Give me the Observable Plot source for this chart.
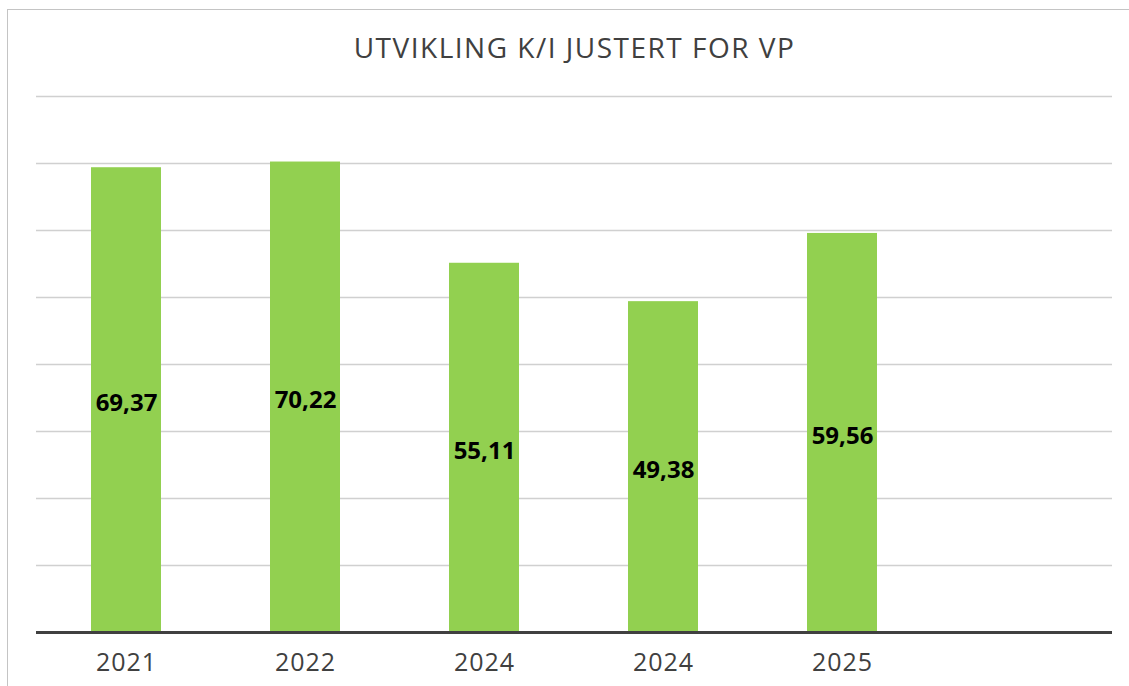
<!DOCTYPE html>
<html>
<head>
<meta charset="utf-8">
<script src="https://cdn.jsdelivr.net/npm/d3@7"></script>
<script src="https://cdn.jsdelivr.net/npm/@observablehq/plot@0.6"></script>
<style>
  html, body { margin: 0; padding: 0; background: #fff; overflow: hidden; }
  body { width: 1129px; height: 686px; position: relative; font-family: "Open Sans", sans-serif; }
  #frame { position: absolute; left: 7px; top: 9px; width: 1300px; height: 900px; border: 1.5px solid #c4c4c4; box-sizing: border-box; }
  #title { position: absolute; left: 10px; top: 14px; width: 1129px; height: 66px; line-height: 66px; text-align: center; font-size: 28px; letter-spacing: 1.5px; color: #404040; font-weight: 400; }
  #chart { position: absolute; left: 0; top: 80px; }
  #chart g[aria-label="x-axis tick label"] text { letter-spacing: 1px; }
</style>
</head>
<body>
<div id="frame"></div>
<div id="title">UTVIKLING K/I JUSTERT FOR VP</div>
<div id="chart"></div>
<script>
const years = ["2021", "2022", "2024", "2024", "2025"];
const values = [69.37, 70.22, 55.11, 49.38, 59.56];
const yTicks = [10, 20, 30, 40, 50, 60, 70, 80];
const slotCount = 6;

const data = years.map((year, i) => ({slot: i, year, value: values[i]}));
const fmt = v => v.toFixed(2).replace(".", ",");

const chart = Plot.plot({
  width: 1129,
  height: 606,
  marginLeft: 36,
  marginRight: 17,
  marginTop: 16,
  marginBottom: 54,
  style: {fontFamily: "Open Sans", background: "transparent", overflow: "visible"},
  x: {
    domain: d3.range(slotCount),
    paddingInner: 0.608,
    paddingOuter: 0.304,
    label: null,
    tickSize: 0,
    tickPadding: 21,
    tickFormat: i => years[i] ?? ""
  },
  y: {domain: [0, 80], axis: null},
  marks: [
    Plot.ruleY(yTicks, {stroke: "#d0d0d0", strokeWidth: 1.5}),
    Plot.barY(data, {x: "slot", y: "value", fill: "#92D050"}),
    Plot.ruleY([0], {stroke: "#404040", strokeWidth: 3}),
    Plot.text(data, {x: "slot", y: d => d.value / 2, text: d => fmt(d.value), fontSize: 24, fontWeight: "bold", fill: "#000", dy: 3}),
    Plot.axisX({tickSize: 0, tickPadding: 21, fontSize: 25, color: "#404040", tickFormat: i => years[i] ?? "", label: null})
  ]
});
document.getElementById("chart").appendChild(chart);
</script>
</body>
</html>
